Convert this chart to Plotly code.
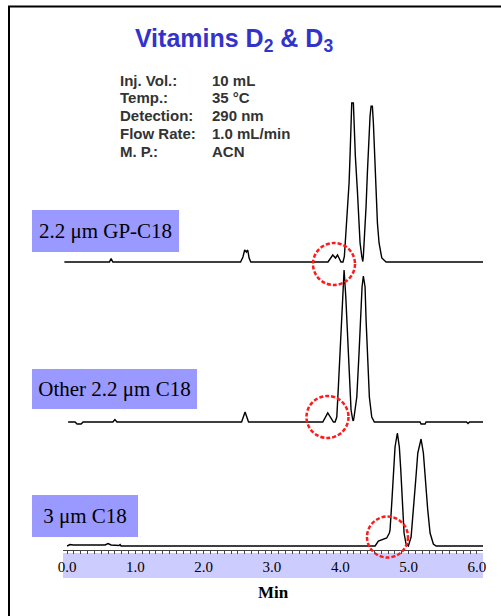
import plotly.graph_objects as go

# ---------------- data ----------------
title_text = "Vitamins D<sub>2</sub> & D<sub>3</sub>"
param_labels = ["Inj. Vol.:", "Temp.:", "Detection:", "Flow Rate:", "M. P.:"]
param_values = ["10 mL", "35 °C", "290 nm", "1.0 mL/min", "ACN"]
column_names = ["2.2 μm GP-C18", "Other 2.2 μm C18", "3 μm C18"]
x_tick_vals = [0, 1, 2, 3, 4, 5, 6]
x_tick_text = ["0.0", "1.0", "2.0", "3.0", "4.0", "5.0", "6.0"]
x_title = "Min"

# chromatogram 1: 2.2 um GP-C18 (time in min, signal in arbitrary units)
t1 = [-0.04, 0.62, 0.644, 0.67, 2.54, 2.575, 2.60, 2.625, 2.645, 2.665, 2.69,
      3.82, 3.89, 3.93, 3.96, 4.01,
      4.04, 4.06, 4.085, 4.11, 4.129, 4.143, 4.153, 4.168, 4.192, 4.202, 4.221,
      4.25, 4.275, 4.29, 4.315, 4.33,
      4.338, 4.363, 4.378, 4.397, 4.417, 4.436, 4.451, 4.47, 4.485, 4.505, 4.524,
      4.544, 4.568, 4.608, 4.671, 6.09]
s1 = [0, 0, 3.5, 0, 0, 5, 12, 10, 12, 4, 0,
      0, 7, 4, 7, 0,
      0, 5.7, 32, 55.7, 79, 105.7, 139, 159, 159, 139, 105.7,
      72.3, 39, 19, 5.7, 0.5,
      5.7, 32.3, 55.7, 89, 122.3, 145.7, 155.7, 155.7, 139, 105.7, 72.3,
      39, 19, 4, 0, 0]

# chromatogram 2: other 2.2 um C18
t2 = [0.015, 0.117, 0.146, 0.205, 0.234, 0.67, 0.70, 0.73,
      2.555, 2.606, 2.657, 3.744, 3.817, 3.90, 3.924,
      3.949, 3.972, 3.997, 4.022, 4.037, 4.056, 4.081, 4.110, 4.133, 4.158, 4.183,
      4.192, 4.202, 4.242, 4.275, 4.30, 4.319, 4.338, 4.363, 4.378, 4.403, 4.426,
      4.461, 4.499, 5.168, 5.183, 5.242, 5.256, 5.849, 5.871, 5.893, 6.09]
s2 = [0, 0, -2, -2, 0, 0, 2.5, 0,
      0, 10, 0, 0, 9, 0, 0,
      5, 35, 69, 102, 125, 152, 125, 85, 42, 12, 2,
      1, 5, 25, 69, 112, 135, 146, 135, 102, 59, 25,
      5, 0, 0, -2, -2, 0, 0, -1.5, 0, 0]

# chromatogram 3: 3 um C18
t3 = [0.0, 0.044, 0.088, 0.556, 0.60, 0.644, 0.76, 0.776, 0.79,
      4.51, 4.558, 4.627, 4.68, 4.719,
      4.729, 4.754, 4.777, 4.802, 4.836, 4.865, 4.886, 4.909, 4.934, 4.963, 4.997,
      5.037, 5.07, 5.105, 5.135, 5.183, 5.217, 5.246, 5.281, 5.315, 5.363, 5.403, 6.09]
s3 = [0, 1.5, 1, 1, 2.5, 1, 0.5, 1.5, 0,
      0, 5, 7, 8, 13,
      16, 43, 76, 99, 113, 99, 76, 39, 13, 2, 0,
      9, 33, 66, 93, 107, 93, 66, 36, 13, 2, 0, 0]

# ---------------- layout helpers ----------------
W, H = 501, 616
ML, MR, MT, MB = 63, 18, 0, 66
PW, PH = W - ML - MR, H - MT - MB


def px_x(p):
    return (p - ML) / PW


def px_y(p):
    return (H - MB - p) / PH


fig = go.Figure()
series = [(t1, s1, "y"), (t2, s2, "y2"), (t3, s3, "y3")]
for (t, s, ya), name in zip(series, column_names):
    fig.add_trace(go.Scatter(x=t, y=s, mode="lines", name=name, yaxis=ya,
                             line=dict(color="black", width=1.4),
                             showlegend=False, hoverinfo="skip"))

# pixel bands for each chromatogram: (top px, bottom px, baseline px)
bands = [(95, 275, 262), (265, 435, 422), (425, 550, 546)]
yaxes = {}
for i, (top, bot, base) in enumerate(bands):
    key = "yaxis" if i == 0 else f"yaxis{i + 1}"
    lo = -(bot - base)
    hi = lo + (bot - top)
    yaxes[key] = dict(domain=[px_y(bot), px_y(top)], range=[lo, hi],
                      visible=False, fixedrange=True, anchor="x")

serif = "Liberation Serif, Times New Roman, serif"
sans = "Liberation Sans, Arial, sans-serif"

fig.update_layout(
    width=W, height=H,
    margin=dict(l=ML, r=MR, t=MT, b=MB),
    paper_bgcolor="white", plot_bgcolor="rgba(0,0,0,0)",
    title=dict(text=title_text, x=234 / W, y=1 - 38 / H,
               xanchor="center", yanchor="middle",
               font=dict(family=sans, size=25, color="#3333cc", weight="bold")),
    xaxis=dict(range=[-0.06, 6.09], anchor="y3", showgrid=False, zeroline=False,
               showline=True, linecolor="#444", linewidth=1,
               tickmode="array", tickvals=x_tick_vals, ticktext=x_tick_text,
               ticks="outside", ticklen=3, tickcolor="#444", tickwidth=1,
               minor=dict(ticks="outside", ticklen=3, dtick=0.1, tick0=0,
                          tickcolor="#444", tickwidth=1, showgrid=False),
               tickfont=dict(family=serif, size=15, color="black"),
               title=dict(text=x_title, standoff=12,
                          font=dict(family=serif, size=17, color="black",
                                    weight="bold")),
               fixedrange=True),
    **yaxes,
)

# parameter block
for i, (lab, val) in enumerate(zip(param_labels, param_values)):
    yc = 80 + i * 17.9
    for txt, xl in ((lab, 118), (val, 210)):
        fig.add_annotation(text=txt, xref="paper", yref="paper",
                           x=px_x(xl), y=px_y(yc), xanchor="left", yanchor="middle",
                           showarrow=False,
                           font=dict(family=sans, size=15, color="#333",
                                     weight="bold"))

# column labels (boxes)
boxes = [(32, 179, 210, 252), (32, 197, 369, 409), (32, 138, 495, 537)]
for name, (x0, x1, y0, y1) in zip(column_names, boxes):
    fig.add_annotation(text=name, xref="paper", yref="paper",
                       x=px_x((x0 + x1) / 2), y=px_y((y0 + y1) / 2),
                       xanchor="center", yanchor="middle", showarrow=False,
                       width=x1 - x0, height=y1 - y0, borderpad=0, borderwidth=0,
                       bgcolor="#9999ff", align="center",
                       font=dict(family=serif, size=21, color="black"))

shapes = []
# tick-label band
shapes.append(dict(type="rect", xref="paper", yref="paper", x0=0, x1=1,
                   y0=px_y(578), y1=px_y(553), fillcolor="#ccccff",
                   line=dict(width=0), layer="below"))
# frame (top and left)
shapes.append(dict(type="path", xref="paper", yref="paper",
                   path=f"M {px_x(9)} {px_y(H + 2)} L {px_x(9)} {px_y(6.5)} L {px_x(W + 2)} {px_y(6.5)}",
                   line=dict(color="black", width=2)))
# red dashed circles
circles = [(334, 264, 21), (327.5, 417, 21), (387.5, 537, 20.5)]
for cx, cy, r in circles:
    shapes.append(dict(type="circle", xref="paper", yref="paper",
                       x0=px_x(cx - r), x1=px_x(cx + r),
                       y0=px_y(cy + r), y1=px_y(cy - r),
                       line=dict(color="#ff1a1a", width=2.5, dash="4px,2px")))
fig.update_layout(shapes=shapes)

fig.write_html("out.html")
